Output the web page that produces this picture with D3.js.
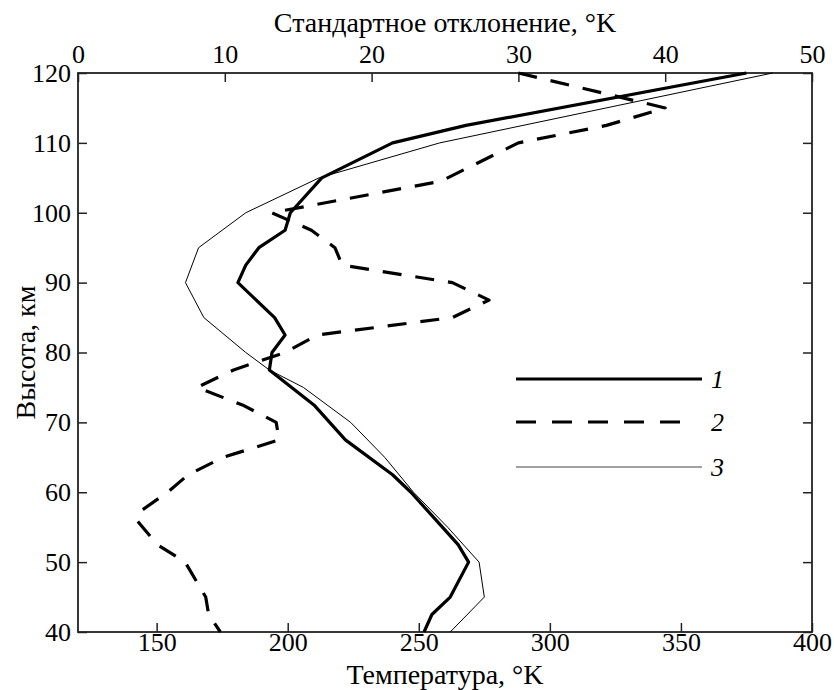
<!DOCTYPE html>
<html>
<head>
<meta charset="utf-8">
<script src="https://cdn.jsdelivr.net/npm/d3@7"></script>
<style>
  body { margin: 0; background: #fff; }
  svg text { font-family: "Liberation Serif", "Times New Roman", "DejaVu Serif", serif !important; fill: #000; }
</style>
</head>
<body>
<div id="chart"></div>
<script>
var width = 834, height = 690;
var margin = {top: 73, right: 22, bottom: 58, left: 78};
var plotW = width - margin.left - margin.right,
    plotH = height - margin.top - margin.bottom;

/* Curve 1: temperature (bottom axis) */
var h1 = [120, 112.5, 110, 105, 100, 97.5, 95, 92.5, 90, 85, 82.5, 80, 77.5, 72.5, 67.5, 62.5, 60, 55, 52.5, 50, 45, 42.5, 40];
var t1 = [375, 268, 240, 213, 201, 199, 189, 184, 181, 195, 199, 194, 193, 210, 222, 240, 247, 259, 265, 269, 262, 255, 252];

/* Curve 2: standard deviation (top axis) */
var h2 = [120, 115, 112.5, 110, 104.5, 100, 97.5, 95, 92.5, 90, 87.5, 85, 82.5, 80, 77.5, 75, 72.5, 70, 67.5, 65, 62.5, 60, 57.5, 56, 52.5, 50, 45, 42.5, 40];
var s2 = [30, 40, 36, 30, 24.7, 13.2, 15.9, 17.5, 18, 25.5, 28, 25.5, 16.3, 14.1, 10.6, 8.1, 11.2, 13.5, 13.7, 9.9, 7.5, 6.1, 4.4, 4.0, 5.4, 7.3, 8.7, 8.9, 9.7];

/* Curve 3: temperature (bottom axis) */
var h3 = [120, 110, 105, 100, 95, 90, 85, 80, 77.5, 75, 70, 65, 60, 55, 50, 45, 40];
var t3 = [385, 258, 212, 184, 166, 161, 168, 184, 193, 206, 224, 237, 248, 261, 273, 275, 262];

var heightTicks = [40, 50, 60, 70, 80, 90, 100, 110, 120];
var tempTicks = [150, 200, 250, 300, 350, 400];
var stdTicks = [0, 10, 20, 30, 40, 50];
var legendLabels = ["1", "2", "3"];

var svg = d3.select("#chart").append("svg")
    .attr("width", width).attr("height", height);

var g = svg.append("g")
    .attr("transform", "translate(" + margin.left + "," + margin.top + ")");

var y = d3.scaleLinear().domain([40, 120]).range([plotH, 0]);
var xT = d3.scaleLinear().domain([120, 400]).range([0, plotW]);
var xS = d3.scaleLinear().domain([0, 50]).range([0, plotW]);

/* axes, ticks pointing inward */
var axisColor = "#222";
var tickFont = 26, titleFont = 28;
function styleAxis(sel) {
    sel.select(".domain").remove();
    sel.selectAll("line").attr("stroke", axisColor).attr("stroke-width", 1.5);
    sel.selectAll("text").attr("font-size", tickFont);
}

g.append("g")
    .call(d3.axisLeft(y).tickValues(heightTicks).tickSize(-9).tickPadding(7))
    .call(styleAxis);

g.append("g")
    .attr("transform", "translate(" + plotW + ",0)")
    .call(d3.axisRight(y).tickValues(heightTicks).tickSize(-9).tickFormat(""))
    .call(styleAxis);

g.append("g")
    .attr("transform", "translate(0," + plotH + ")")
    .call(d3.axisBottom(xT).tickValues(tempTicks).tickSize(-9).tickPadding(1))
    .call(styleAxis);

g.append("g")
    .call(d3.axisTop(xS).tickValues(stdTicks).tickSize(-9).tickPadding(10))
    .call(styleAxis);

/* frame */
g.append("rect")
    .attr("width", plotW).attr("height", plotH)
    .attr("fill", "none").attr("stroke", axisColor).attr("stroke-width", 1.8);

/* curves */
var tempLine = d3.line().x(function(d) { return xT(d[1]); }).y(function(d) { return y(d[0]); });
var stdLine = d3.line().x(function(d) { return xS(d[1]); }).y(function(d) { return y(d[0]); });

g.append("path")
    .datum(d3.zip(h3, t3))
    .attr("d", tempLine)
    .attr("fill", "none").attr("stroke", "#000").attr("stroke-width", 1);

g.append("path")
    .datum(d3.zip(h2, s2))
    .attr("d", stdLine)
    .attr("fill", "none").attr("stroke", "#000").attr("stroke-width", 3.2)
    .attr("stroke-dasharray", "19,14").attr("stroke-linejoin", "round");

g.append("path")
    .datum(d3.zip(h1, t1))
    .attr("d", tempLine)
    .attr("fill", "none").attr("stroke", "#000").attr("stroke-width", 3.2)
    .attr("stroke-linejoin", "round");

/* legend */
var legendStyles = [
    {w: 3.2, dash: null, y: 379},
    {w: 3.2, dash: "20,16", y: 422},
    {w: 1.2, dash: null, y: 467}
];
var leg = svg.append("g").selectAll("g")
    .data(legendLabels)
    .enter().append("g")
    .attr("transform", function(d, i) { return "translate(0," + legendStyles[i].y + ")"; });

leg.append("line")
    .attr("x1", 516).attr("x2", function(d, i) { return i == 1 ? 690 : 702; })
    .attr("stroke", function(d, i) { return i == 2 ? "#444" : "#000"; })
    .attr("stroke-width", function(d, i) { return legendStyles[i].w; })
    .attr("stroke-dasharray", function(d, i) { return legendStyles[i].dash; });

leg.append("text")
    .attr("x", 711).attr("dy", "0.33em")
    .attr("font-size", tickFont).attr("font-style", "italic")
    .text(function(d) { return d; });

/* axis titles */
svg.append("text")
    .attr("x", margin.left + plotW / 2).attr("y", 32)
    .attr("text-anchor", "middle").attr("font-size", titleFont)
    .text("Стандартное отклонение, °K");

svg.append("text")
    .attr("x", margin.left + plotW / 2).attr("y", 684)
    .attr("text-anchor", "middle").attr("font-size", titleFont)
    .text("Температура, °K");

svg.append("text")
    .attr("transform", "translate(35," + (margin.top + plotH / 2) + ") rotate(-90)")
    .attr("text-anchor", "middle").attr("font-size", titleFont)
    .text("Высота, км");
</script>
</body>
</html>
